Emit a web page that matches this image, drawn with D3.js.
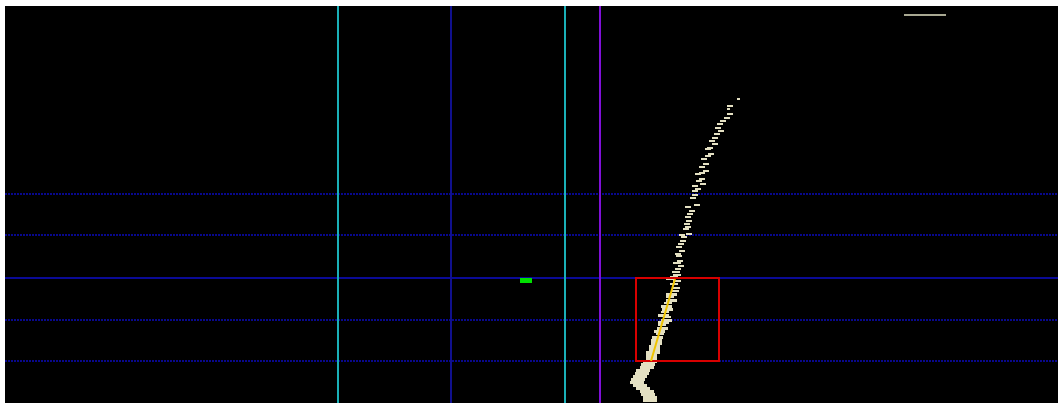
<!DOCTYPE html>
<html lang="en">
<head>
<meta charset="UTF-8">
<script src="https://d3js.org/d3.v7.min.js"></script>
<title>tick chart</title>
<style>
  body { margin: 0; background: #fff; }
</style>
</head>
<body>
<svg id="chart" width="1058" height="403"></svg>
<script>
// trade ticks: x = position, y = price, vol = size
const tickX = [73.3, 72.5, 72.3, 72.5, 72.2, 71.8, 71.5, 71.3, 71.6, 71.2, 71.0, 70.7, 71.0, 70.5, 70.3,
  70.6, 70.3, 69.9, 70.1, 69.7, 70.1, 69.7, 69.3, 69.7, 69.4, 69.8, 69.0, 69.3, 69.0, 69.0, 68.8,
  69.2, 68.3, 68.7, 68.5, 68.3, 68.4, 68.2, 68.3, 68.1, 68.4, 67.7, 67.9, 67.8, 67.6, 67.4, 67.7,
  67.3, 67.4, 67.5, 67.2, 67.6, 67.3, 67.1, 67.2, 66.9, 66.5, 67.2, 66.9, 67.1,
  67.0, 66.7, 66.5, 66.7, 66.3, 66.2, 66.3, 66.0, 65.9, 66.2, 66.2, 65.9, 65.7, 65.8, 65.5, 65.5,
  65.3, 65.2, 65.2, 65.0, 65.0, 64.8, 64.7, 64.7, 64.5, 64.3, 64.2, 63.8, 63.7, 63.5, 63.3, 63.2,
  63.5, 63.8, 64.2, 64.3, 64.5, 64.5];
const tickY = [30.4, 29.7, 29.4, 28.9, 28.5, 28.2, 27.9, 27.5, 27.2, 26.9, 26.5, 26.2, 25.9, 25.5, 25.4,
  24.9, 24.7, 24.4, 23.9, 23.6, 23.2, 23.0, 22.9, 22.4, 22.2, 21.9, 21.7, 21.4, 21.2, 20.8, 20.5,
  19.8, 19.6, 19.2, 18.9, 18.6, 18.2, 17.9, 17.6, 17.4, 16.9, 16.8, 16.6, 16.2, 15.9, 15.6, 15.2,
  14.9, 14.7, 14.2, 14.0, 13.7, 13.4, 13.1, 12.8, 12.6, 12.4, 12.2, 11.9, 11.5,
  11.2, 10.9, 10.6, 10.3, 10.0, 9.7, 9.4, 9.1, 8.8, 8.6, 8.3, 8.1, 7.8, 7.5, 7.2, 6.9,
  6.6, 6.3, 6.0, 5.7, 5.4, 5.1, 4.8, 4.5, 4.2, 3.9, 3.6, 3.3, 3.0, 2.7, 2.4, 2.1,
  1.8, 1.5, 1.2, 0.9, 0.6, 0.3];
const tickVol = [1, 2, 1, 2, 2, 2, 2, 2, 2, 2, 2, 2, 2, 2, 2,
  2, 2, 2, 2, 2, 2, 2, 2, 2, 2, 2, 2, 2, 2, 2, 2,
  2, 2, 2, 2, 2, 2, 2, 2, 2, 2, 2, 2, 2, 2, 2, 2,
  2, 2, 2, 3, 2, 2, 3, 3, 3, 3, 3, 3, 3,
  3, 4, 3, 4, 3, 4, 4, 3, 4, 3, 4, 4, 3, 4, 4, 3,
  4, 4, 4, 4, 4, 5, 4, 4, 5, 5, 5, 5, 5, 5, 5, 5,
  5, 5, 5, 5, 5, 5];

// reference levels
const dottedLevels = [20.9, 16.8, 8.3, 4.2];
const solidLevel = 12.5;
const bandX = [33.3, 56.0];   // cyan
const midX = 44.6;            // blue
const markX = 59.5;           // purple
const boxX = [63.1, 71.4];
const boxY = [4.2, 12.5];
const trendX = [67.0, 64.6];
const trendY = [12.4, 4.2];
const greenX = [51.5, 52.7];
const greenY = [12.5, 12.0];
const grayX = [89.9, 94.1];
const grayY = 38.8;

const W = 1058, H = 403;
const svg = d3.select("#chart");

const x = d3.scaleLinear().domain([0, 105.3]).range([5, W]);
const y = d3.scaleLinear().domain([0, 39.7]).range([H, 6]);
const w = d3.scaleLinear().domain([0, 5]).range([0, 14]);

svg.append("rect")
    .attr("x", x(0)).attr("y", y(39.7))
    .attr("width", W - x(0)).attr("height", H - y(39.7))
    .attr("fill", "#000");

const g = svg.append("g").attr("shape-rendering", "crispEdges");

// horizontal levels
g.selectAll(".dot-level").data(dottedLevels).enter().append("line")
    .attr("x1", x(0)).attr("x2", W)
    .attr("y1", d => Math.round(y(d))).attr("y2", d => Math.round(y(d)))
    .attr("stroke", "#08088c").attr("stroke-width", 2)
    .attr("stroke-dasharray", "2,1");

g.append("line")
    .attr("x1", x(0)).attr("x2", W)
    .attr("y1", Math.round(y(solidLevel))).attr("y2", Math.round(y(solidLevel)))
    .attr("stroke", "#0a0a96").attr("stroke-width", 2);

// vertical lines
g.selectAll(".band").data(bandX).enter().append("line")
    .attr("x1", d => Math.round(x(d))).attr("x2", d => Math.round(x(d)))
    .attr("y1", y(39.7)).attr("y2", H)
    .attr("stroke", "#1ab0b8").attr("stroke-width", 2);

g.append("line")
    .attr("x1", Math.round(x(midX))).attr("x2", Math.round(x(midX)))
    .attr("y1", y(39.7)).attr("y2", H)
    .attr("stroke", "#10108e").attr("stroke-width", 2);

g.append("line")
    .attr("x1", Math.round(x(markX))).attr("x2", Math.round(x(markX)))
    .attr("y1", y(39.7)).attr("y2", H)
    .attr("stroke", "#8010d8").attr("stroke-width", 2);

// green marker
g.append("rect")
    .attr("x", x(greenX[0])).attr("y", y(greenY[0]))
    .attr("width", x(greenX[1]) - x(greenX[0]))
    .attr("height", y(greenY[1]) - y(greenY[0]))
    .attr("fill", "#00e000");

// gray marker top right
g.append("rect")
    .attr("x", x(grayX[0])).attr("y", Math.round(y(grayY)) - 1)
    .attr("width", x(grayX[1]) - x(grayX[0])).attr("height", 2)
    .attr("fill", "#a8a892");

// ticks
const ticks = tickX.map((d, i) => ({ x: d, y: tickY[i], v: tickVol[i] }));
g.selectAll(".tick").data(ticks).enter().append("rect")
    .attr("x", d => Math.round(x(d.x) - w(d.v) / 2))
    .attr("y", d => Math.round(y(d.y)) - 1)
    .attr("width", d => Math.round(w(d.v)))
    .attr("height", d => d.v >= 4 ? 3 : 2)
    .attr("fill", "#e4e0c2");

// box and trend
svg.append("rect")
    .attr("x", Math.round(x(boxX[0]))).attr("y", Math.round(y(boxY[1])))
    .attr("width", Math.round(x(boxX[1]) - x(boxX[0])))
    .attr("height", Math.round(y(boxY[0]) - y(boxY[1])))
    .attr("fill", "none").attr("stroke", "#d80000").attr("stroke-width", 2);

svg.append("line")
    .attr("x1", x(trendX[0])).attr("y1", y(trendY[0]))
    .attr("x2", x(trendX[1])).attr("y2", y(trendY[1]))
    .attr("stroke", "#f0c400").attr("stroke-width", 2);
</script>
</body>
</html>
